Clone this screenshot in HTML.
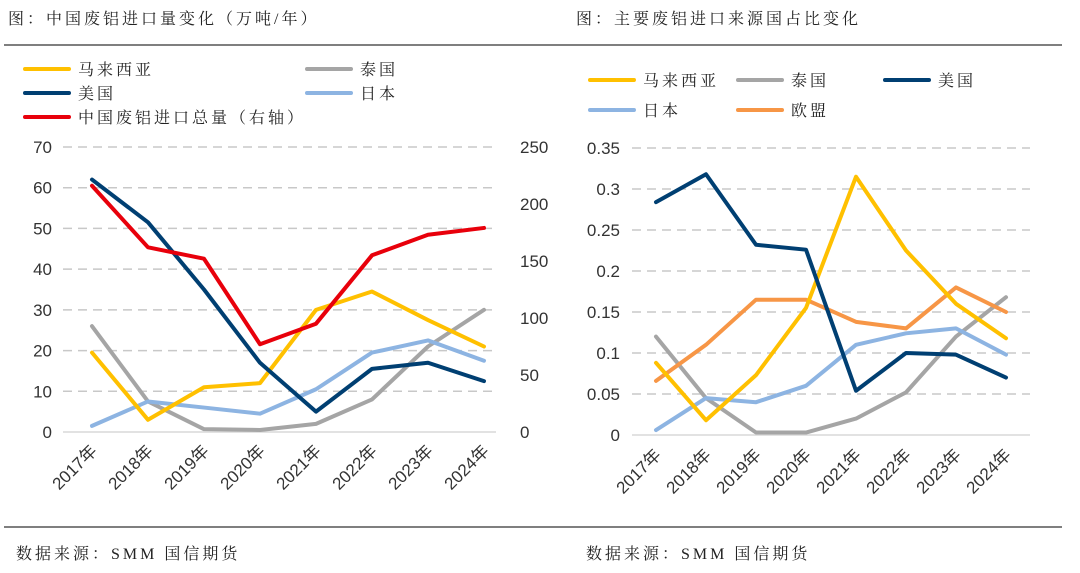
<!DOCTYPE html>
<html><head><meta charset="utf-8"><style>
body{margin:0;background:#fff;width:1080px;height:573px;overflow:hidden}
svg{display:block}
text{font-family:"Liberation Sans","Noto Serif CJK SC",serif;fill:#222}
.cj{font-family:"Liberation Serif","Noto Serif CJK SC",serif;letter-spacing:3px}
.ax{font-family:"Liberation Sans","Noto Sans CJK SC",sans-serif;font-size:17px;fill:#333}
</style></head><body>
<svg id="s" width="1080" height="573">
<text class="cj" x="8" y="24" font-size="16">图：中国废铝进口量变化（万吨/年）</text>
<text class="cj" x="576" y="24" font-size="16">图：主要废铝进口来源国占比变化</text>
<line x1="4" y1="45" x2="1062" y2="45" stroke="#333" stroke-width="1.2"/>
<line x1="4" y1="527" x2="1062" y2="527" stroke="#333" stroke-width="1.2"/>
<text class="cj" x="16" y="559" font-size="16">数据来源：SMM 国信期货</text>
<text class="cj" x="586" y="559" font-size="16">数据来源：SMM 国信期货</text>
<g id="L"></g><g id="R"></g>
</svg>
<script>
const years=["2017年","2018年","2019年","2020年","2021年","2022年","2023年","2024年"];
const leftTicks=[0,10,20,30,40,50,60,70];
const rightTicks=[0,50,100,150,200,250];
const lMalaysia=[19.5,3,11,12,30,34.5,27.5,21];
const lThailand=[26,7.5,0.7,0.5,2,8,21,30];
const lUSA=[62,51.5,35,17,5,15.5,17,12.5];
const lJapan=[1.5,7.5,6,4.5,10.5,19.5,22.5,17.5];
const lTotal=[216,162,152,77,95,155,173,179];
const shareTicks=["0","0.05","0.1","0.15","0.2","0.25","0.3","0.35"];
const rMalaysia=[0.088,0.018,0.073,0.155,0.315,0.225,0.16,0.118];
const rThailand=[0.12,0.045,0.003,0.003,0.02,0.052,0.12,0.168];
const rUSA=[0.284,0.318,0.232,0.226,0.054,0.1,0.098,0.07];
const rJapan=[0.006,0.045,0.04,0.06,0.11,0.124,0.13,0.098];
const rEU=[0.066,0.11,0.165,0.165,0.138,0.13,0.18,0.15];

const NS="http://www.w3.org/2000/svg";
const C={my:"#FFC000",th:"#A5A5A5",us:"#003F72",jp:"#8DB4E2",cn:"#E8000B",eu:"#F79646"};
function mk(p,t,a){const e=document.createElementNS(NS,t);for(const k in a)e.setAttribute(k,a[k]);p.appendChild(e);return e;}
function txt(p,x,y,s,a){const e=mk(p,"text",Object.assign({x:x,y:y},a||{}));e.textContent=s;return e;}

const L=document.getElementById("L");
const lx=i=>92+i*56.0, ly=v=>432-v*(285/70), ry=v=>432-v*(285/250);
leftTicks.forEach(v=>{
  const g=mk(L,"line",{x1:63,x2:496,y1:ly(v),y2:ly(v),stroke:v?"#C8C8C8":"#D9D9D9","stroke-width":1.5,"stroke-dasharray":v?"9,6":"none"});
  
  
  const t=txt(L,52,ly(v)+6,String(v),{"text-anchor":"end",class:"ax"});
  
  
});
rightTicks.forEach(v=>{
  const t=txt(L,520,ry(v)+6,String(v),{class:"ax"});
  
  
});
function series(p,arr,fx,fy,col,name){
  const e=mk(p,"polyline",{points:arr.map((v,i)=>fx(i)+","+fy(v)).join(" "),fill:"none",stroke:col,"stroke-width":4,"stroke-linejoin":"round","stroke-linecap":"round"});
  
  
}
series(L,lThailand,lx,ly,C.th,"line-thailand");
series(L,lJapan,lx,ly,C.jp,"line-japan");
series(L,lMalaysia,lx,ly,C.my,"line-malaysia");
series(L,lUSA,lx,ly,C.us,"line-usa");
series(L,lTotal,lx,ry,C.cn,"line-china-total");
years.forEach((y,i)=>{
  const t=txt(L,0,0,y,{class:"ax","font-size":15,"text-anchor":"end",transform:`translate(${lx(i)+6},${452}) rotate(-45)`});
  
  
});
function leg(p,x,y,col,label,name){
  const g=mk(p,"g",{});
  
  
  mk(g,"line",{x1:x,x2:x+44,y1:y,y2:y,stroke:col,"stroke-width":4,"stroke-linecap":"round"});
  txt(g,x+53,y+6,label,{"font-size":16,class:"cj"});
}
leg(L,25,69,C.my,"马来西亚","legend-malaysia");
leg(L,307,69,C.th,"泰国","legend-thailand");
leg(L,25,93,C.us,"美国","legend-usa");
leg(L,307,93,C.jp,"日本","legend-japan");
leg(L,25,117,C.cn,"中国废铝进口总量（右轴）","legend-china-total");

const R=document.getElementById("R");
const rx=i=>656+i*50, sy=v=>435-v*(287/0.35);
shareTicks.forEach(s=>{
  const v=parseFloat(s);
  const g=mk(R,"line",{x1:632,x2:1030,y1:sy(v),y2:sy(v),stroke:v?"#C8C8C8":"#D9D9D9","stroke-width":1.5,"stroke-dasharray":v?"9,6":"none"});
  
  
  const t=txt(R,620,sy(v)+6,s,{"text-anchor":"end",class:"ax"});
  
  
});
series(R,rThailand,rx,sy,C.th,"share-thailand");
series(R,rJapan,rx,sy,C.jp,"share-japan");
series(R,rEU,rx,sy,C.eu,"share-eu");
series(R,rMalaysia,rx,sy,C.my,"share-malaysia");
series(R,rUSA,rx,sy,C.us,"share-usa");
years.forEach((y,i)=>{
  const t=txt(R,0,0,y,{class:"ax","font-size":15,"text-anchor":"end",transform:`translate(${rx(i)+6},${456}) rotate(-45)`});
  
  
});
leg(R,590,80,C.my,"马来西亚","legend-r-malaysia");
leg(R,738,80,C.th,"泰国","legend-r-thailand");
leg(R,885,80,C.us,"美国","legend-r-usa");
leg(R,590,110,C.jp,"日本","legend-r-japan");
leg(R,738,110,C.eu,"欧盟","legend-r-eu");
</script>
</body></html>
